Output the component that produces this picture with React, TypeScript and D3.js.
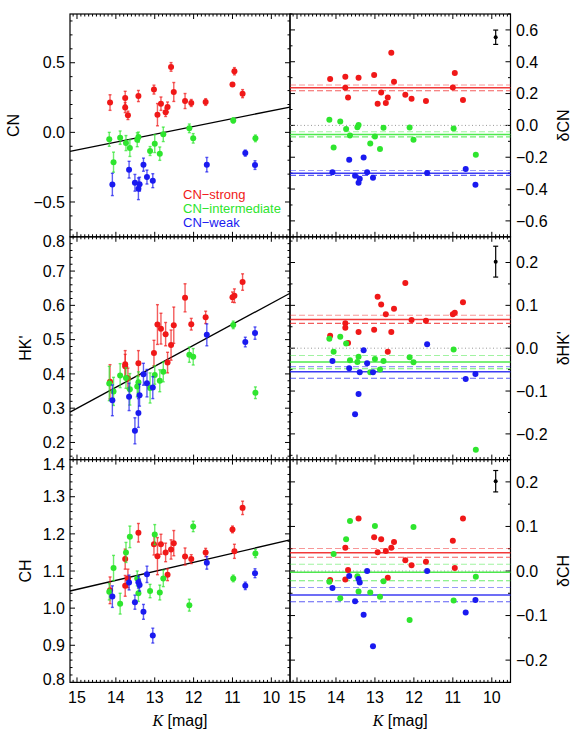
import React from 'react';
import * as d3 from 'd3';

// columns: K [mag], index value, error, residual from the fit line
const strongCN = [
  [14.15, 0.214, 0.056, 0.292], [13.76, 0.247, 0.048, 0.305], [13.76, 0.178, 0.036, 0.236],
  [13.69, 0.122, 0.030, 0.175], [13.42, 0.261, 0.040, 0.300], [13.02, 0.307, 0.032, 0.317],
  [12.93, 0.127, 0.080, 0.136], [12.84, 0.206, 0.048, 0.206], [12.72, 0.144, 0.030, 0.140],
  [12.67, 0.182, 0.036, 0.175], [12.58, 0.470, 0.031, 0.457], [12.51, 0.290, 0.068, 0.275],
  [12.22, 0.225, 0.054, 0.192], [12.06, 0.211, 0.025, 0.167], [11.69, 0.218, 0.024, 0.154],
  [11.00, 0.343, 0.010, 0.238], [10.95, 0.439, 0.026, 0.330], [10.74, 0.278, 0.029, 0.159],
];
const interCN = [
  [14.17, -0.050, 0.050, 0.035], [14.06, -0.214, 0.072, -0.139], [13.89, -0.038, 0.048, 0.025],
  [13.74, -0.077, 0.054, -0.023], [13.64, -0.113, 0.060, -0.063], [13.45, -0.053, 0.050, -0.011],
  [13.42, -0.034, 0.036, 0.002], [13.12, -0.134, 0.032, -0.113], [13.00, -0.081, 0.064, -0.070],
  [12.87, -0.153, 0.048, -0.149], [12.78, -0.014, 0.052, -0.015], [12.11, 0.029, 0.031, -0.013],
  [12.01, -0.043, 0.034, -0.090], [10.98, 0.086, 0.019, -0.019], [10.41, -0.043, 0.024, -0.184],
];
const weakCN = [
  [14.09, -0.374, 0.080, -0.295], [13.66, -0.268, 0.060, -0.216], [13.51, -0.362, 0.060, -0.316],
  [13.42, -0.405, 0.078, -0.360], [13.39, -0.372, 0.050, -0.335], [13.29, -0.232, 0.047, -0.201],
  [13.20, -0.321, 0.050, -0.295], [13.05, -0.347, 0.050, -0.329], [11.66, -0.232, 0.052, -0.299],
  [10.67, -0.149, 0.022, -0.274], [10.42, -0.235, 0.031, -0.373],
];

const strongHK = [
  [14.15, 0.377, 0.050, 0.029], [13.76, 0.428, 0.040, 0.058], [13.76, 0.422, 0.035, 0.048],
  [13.69, 0.387, 0.030, 0.012], [13.42, 0.431, 0.037, 0.038], [13.02, 0.461, 0.037, 0.043],
  [12.93, 0.544, 0.058, 0.120], [12.84, 0.532, 0.045, 0.102], [12.72, 0.516, 0.034, 0.079],
  [12.67, 0.433, 0.030, -0.008], [12.58, 0.484, 0.044, 0.038], [12.51, 0.542, 0.053, 0.092],
  [12.22, 0.622, 0.041, 0.152], [12.06, 0.545, 0.017, 0.066], [11.69, 0.565, 0.018, 0.064],
  [11.00, 0.624, 0.015, 0.079], [10.95, 0.628, 0.020, 0.083], [10.74, 0.668, 0.024, 0.107],
];
const interHK = [
  [14.17, 0.372, 0.050, 0.022], [14.06, 0.349, 0.041, -0.008], [13.89, 0.395, 0.035, 0.027],
  [13.74, 0.388, 0.030, 0.011], [13.64, 0.355, 0.046, -0.028], [13.45, 0.363, 0.030, -0.032],
  [13.42, 0.376, 0.030, -0.020], [13.12, 0.359, 0.044, -0.056], [13.00, 0.397, 0.027, -0.025],
  [12.87, 0.380, 0.032, -0.050], [12.78, 0.406, 0.029, -0.030], [12.11, 0.456, 0.022, -0.021],
  [12.01, 0.450, 0.024, -0.033], [10.98, 0.543, 0.011, -0.003], [10.41, 0.345, 0.017, -0.237],
];
const weakHK = [
  [14.09, 0.323, 0.045, -0.030], [13.66, 0.333, 0.040, -0.047], [13.51, 0.234, 0.038, -0.154],
  [13.42, 0.286, 0.042, -0.107], [13.39, 0.338, 0.032, -0.056], [13.29, 0.399, 0.032, -0.005],
  [13.20, 0.373, 0.040, -0.035], [13.05, 0.360, 0.032, -0.056], [11.66, 0.514, 0.032, 0.009],
  [10.67, 0.493, 0.014, -0.072], [10.42, 0.519, 0.018, -0.060],
];

const strongCH = [
  [14.15, 1.048, 0.036, -0.020], [13.76, 1.132, 0.027, 0.052], [13.76, 1.060, 0.028, -0.019],
  [13.69, 1.080, 0.025, 0.002], [13.42, 1.203, 0.025, 0.118], [13.02, 1.172, 0.029, 0.076],
  [12.93, 1.140, 0.050, 0.042], [12.84, 1.172, 0.027, 0.071], [12.72, 1.150, 0.025, 0.045],
  [12.67, 1.090, 0.016, -0.015], [12.58, 1.158, 0.026, 0.052], [12.51, 1.175, 0.034, 0.065],
  [12.22, 1.139, 0.023, 0.024], [12.06, 1.132, 0.012, 0.013], [11.69, 1.150, 0.011, 0.021],
  [11.00, 1.212, 0.009, 0.068], [10.95, 1.153, 0.019, 0.007], [10.74, 1.270, 0.018, 0.118],
];
const interCH = [
  [14.17, 1.044, 0.022, -0.024], [14.06, 1.108, 0.034, 0.038], [13.89, 1.012, 0.028, -0.061],
  [13.74, 1.150, 0.027, 0.071], [13.64, 1.192, 0.029, 0.112], [13.45, 1.080, 0.020, -0.012],
  [13.42, 1.040, 0.022, -0.046], [13.12, 1.046, 0.018, -0.048], [13.00, 1.198, 0.027, 0.101],
  [12.87, 1.042, 0.020, -0.058], [12.78, 1.080, 0.022, -0.023], [12.11, 1.008, 0.016, -0.110],
  [12.01, 1.220, 0.014, 0.099], [10.98, 1.080, 0.009, -0.066], [10.41, 1.147, 0.011, -0.013],
];
const weakCH = [
  [14.09, 1.031, 0.029, -0.038], [13.66, 1.069, 0.020, -0.011], [13.51, 1.016, 0.019, -0.068],
  [13.42, 1.070, 0.016, -0.018], [13.39, 1.062, 0.016, -0.026], [13.29, 0.990, 0.020, -0.098],
  [13.20, 1.091, 0.022, 0.000], [13.05, 0.926, 0.020, -0.169], [11.66, 1.122, 0.017, 0.000],
  [10.67, 1.060, 0.010, -0.093], [10.42, 1.094, 0.012, -0.065],
];

// linear fits: [intercept, slope in K]
const fitCN = [0.718, -0.0563];
const fitHK = [1.219, -0.0613];
const fitCH = [1.415, -0.0243];

// group mean residuals: [mean, low, high] for strong / intermediate / weak
const meanCN = [[0.236, 0.218, 0.254], [-0.057, -0.072, -0.040], [-0.300, -0.314, -0.283]];
const meanHK = [[0.067, 0.058, 0.077], [-0.032, -0.048, -0.017], [-0.055, -0.070, -0.043]];
const meanCH = [[0.041, 0.031, 0.0505], [-0.003, -0.022, 0.015], [-0.054, -0.069, -0.037]];

// typical error: [K, value, error]
const refCN = [9.9, 0.554, 0.045];
const refHK = [9.9, 0.202, 0.036];
const refCH = [9.9, 0.2015, 0.024];

const groupNames = ['CN−strong', 'CN−intermediate', 'CN−weak'];
const groupColors = ['#f01818', '#2ee52e', '#1a1af0'];
const kTicks = [15, 14, 13, 12, 11, 10];

const kDomain = [15.18, 9.52];
const font = '"Liberation Sans", Arial, sans-serif';

const rows = [
  { title: 'CN', dtitle: 'δCN', dom: [-0.75, 0.85], major: 0.5, minor: 0.1, ddom: [-0.7, 0.7], dmajor: 0.2, dminor: 0.1,
    data: [strongCN, interCN, weakCN], fit: fitCN, mean: meanCN, ref: refCN, titleX: 13 },
  { title: "HK'", dtitle: "δHK'", dom: [0.15, 0.8], major: 0.1, minor: 0.02, ddom: [-0.26, 0.26], dmajor: 0.1, dminor: 0.05,
    data: [strongHK, interHK, weakHK], fit: fitHK, mean: meanHK, ref: refHK, titleX: 25 },
  { title: 'CH', dtitle: 'δCH', dom: [0.8, 1.4], major: 0.1, minor: 0.02, ddom: [-0.25, 0.25], dmajor: 0.1, dminor: 0.05,
    data: [strongCH, interCH, weakCH], fit: fitCH, mean: meanCH, ref: refCH, titleX: 25 },
];

function stepsIn(dom, step) {
  const lo = Math.min(dom[0], dom[1]), hi = Math.max(dom[0], dom[1]);
  const out = [];
  for (let i = Math.ceil(lo / step - 1e-6); i * step <= hi + 1e-9; i++) out.push(+(i * step).toFixed(6));
  return out;
}

function minorsIn(dom, step, major) {
  return stepsIn(dom, step).filter(v => Math.abs(v / major - Math.round(v / major)) > 1e-4);
}

function Frame({ xs, ys, yMajor, yMinor }) {
  const [x0, x1] = xs.range();
  const [y1, y0] = ys.range();
  const ticks = [];
  const xMaj = stepsIn(kDomain, 1);
  const xMin = minorsIn(kDomain, 0.1, 1);
  xMaj.forEach(k => ticks.push([xs(k), y1, xs(k), y1 - 5], [xs(k), y0, xs(k), y0 + 5]));
  xMin.forEach(k => ticks.push([xs(k), y1, xs(k), y1 - 2.5], [xs(k), y0, xs(k), y0 + 2.5]));
  stepsIn(ys.domain(), yMajor).forEach(v => ticks.push([x0, ys(v), x0 + 5, ys(v)], [x1, ys(v), x1 - 5, ys(v)]));
  minorsIn(ys.domain(), yMinor, yMajor).forEach(v => ticks.push([x0, ys(v), x0 + 2.5, ys(v)], [x1, ys(v), x1 - 2.5, ys(v)]));
  return (
    <g>
      <rect x={x0} y={y0} width={x1 - x0} height={y1 - y0} fill="none" stroke="#000" strokeWidth={1.2} />
      {ticks.map((t, i) => (
        <line key={i} x1={t[0]} y1={t[1]} x2={t[2]} y2={t[3]} stroke="#000" strokeWidth={1} />
      ))}
    </g>
  );
}

export default function App() {
  const W = 581, H = 742;
  const top = 14, rowH = 222.8;
  const fmt = d3.format('.1f');
  const xL = d3.scaleLinear().domain(kDomain).range([70, 290]);
  const xR = d3.scaleLinear().domain(kDomain).range([290, 510.5]);

  return (
    <div style={{ position: 'absolute', left: 0, top: 0 }}>
      <svg width={W} height={H} style={{ display: 'block', background: '#fff' }} fontFamily={font}>
        {rows.map((row, i) => {
          const y0 = top + i * rowH;
          const y1 = y0 + rowH;
          const yL = d3.scaleLinear().domain(row.dom).range([y1, y0]);
          const yR = d3.scaleLinear().domain(row.ddom).range([y1, y0]);
          const clampY = y => Math.min(Math.max(y, y0 + 4.5), y1 - 3);
          const fitLine = d3.line()(kDomain.map(k => [xL(k), yL(row.fit[0] + row.fit[1] * k)]));
          const mid = (y0 + y1) / 2;
          return (
            <g key={row.title}>
              {/* left panel */}
              <Frame xs={xL} ys={yL} yMajor={row.major} yMinor={row.minor} />
              <path d={fitLine} stroke="#000" strokeWidth={1.3} fill="none" />
              {row.data.map((set, g) => (
                <g key={g}>
                  {set.map((d, j) => (
                    <g key={j} stroke={groupColors[g]} strokeOpacity={0.7} strokeWidth={1.4}>
                      <line x1={xL(d[0])} x2={xL(d[0])} y1={yL(d[1] - d[2])} y2={yL(d[1] + d[2])} />
                      <line x1={xL(d[0]) - 1.5} x2={xL(d[0]) + 1.5} y1={yL(d[1] - d[2])} y2={yL(d[1] - d[2])} />
                      <line x1={xL(d[0]) - 1.5} x2={xL(d[0]) + 1.5} y1={yL(d[1] + d[2])} y2={yL(d[1] + d[2])} />
                    </g>
                  ))}
                  {set.map((d, j) => (
                    <circle key={'c' + j} cx={xL(d[0])} cy={yL(d[1])} r={3} fill={groupColors[g]} />
                  ))}
                </g>
              ))}
              {stepsIn(row.dom, row.major).map(v => (
                <text key={'yl' + v} x={65} y={clampY(yL(v))} dy="0.36em" textAnchor="end" fontSize={16}>{fmt(v)}</text>
              ))}
              <text transform={`translate(${row.titleX},${mid}) rotate(-90)`} dy="0.36em" textAnchor="middle" fontSize={16}>{row.title}</text>

              {/* right panel */}
              <Frame xs={xR} ys={yR} yMajor={row.dmajor} yMinor={row.dminor} />
              <line x1={290} x2={510.5} y1={yR(0)} y2={yR(0)} stroke="#999" strokeWidth={1} strokeDasharray="1,2.5" />
              {row.mean.map((m, g) => (
                <g key={'m' + g} stroke={groupColors[g]}>
                  <line x1={290} x2={510.5} y1={yR(m[0])} y2={yR(m[0])} strokeWidth={1.5} strokeOpacity={0.85} />
                  <line x1={290} x2={510.5} y1={yR(m[1])} y2={yR(m[1])} strokeWidth={1.1} strokeOpacity={0.7} strokeDasharray="6,3" />
                  <line x1={290} x2={510.5} y1={yR(m[2])} y2={yR(m[2])} strokeWidth={1.1} strokeOpacity={0.45} strokeDasharray="6,3" />
                </g>
              ))}
              {row.data.map((set, g) => (
                <g key={'r' + g}>
                  {set.map((d, j) => (
                    <circle key={j} cx={xR(d[0])} cy={yR(d[3])} r={3} fill={groupColors[g]} />
                  ))}
                </g>
              ))}
              <g stroke="#000" strokeWidth={1.2}>
                <line x1={xR(row.ref[0])} x2={xR(row.ref[0])} y1={yR(row.ref[1] - row.ref[2])} y2={yR(row.ref[1] + row.ref[2])} />
                <line x1={xR(row.ref[0]) - 2.5} x2={xR(row.ref[0]) + 2.5} y1={yR(row.ref[1] - row.ref[2])} y2={yR(row.ref[1] - row.ref[2])} />
                <line x1={xR(row.ref[0]) - 2.5} x2={xR(row.ref[0]) + 2.5} y1={yR(row.ref[1] + row.ref[2])} y2={yR(row.ref[1] + row.ref[2])} />
              </g>
              <circle cx={xR(row.ref[0])} cy={yR(row.ref[1])} r={2} fill="#000" />
              {stepsIn(row.ddom, row.dmajor).map(v => (
                <text key={'yr' + v} x={516} y={clampY(yR(v))} dy="0.36em" textAnchor="start" fontSize={16}>{fmt(v)}</text>
              ))}
              <text transform={`translate(563,${mid}) rotate(-90)`} dy="0.36em" textAnchor="middle" fontSize={16}>{row.dtitle}</text>
            </g>
          );
        })}

        {/* legend */}
        {groupNames.map((name, g) => (
          <text key={name} x={183} y={194 + g * 14.2} dy="0.36em" fontSize={13} fill={groupColors[g]}>{name}</text>
        ))}

        {/* x axis labels */}
        {[xL, xR].map((xs, c) => (
          <g key={'x' + c}>
            {kTicks.map(k => (
              <text key={k} x={xs(k)} y={697} dy="0.36em" textAnchor="middle" fontSize={16}>{k}</text>
            ))}
            <text x={(xs.range()[0] + xs.range()[1]) / 2} y={720} dy="0.36em" textAnchor="middle" fontSize={16}>
              <tspan fontFamily='"Liberation Serif", serif' fontStyle="italic">K</tspan>
              <tspan> [mag]</tspan>
            </text>
          </g>
        ))}
      </svg>
    </div>
  );
}
